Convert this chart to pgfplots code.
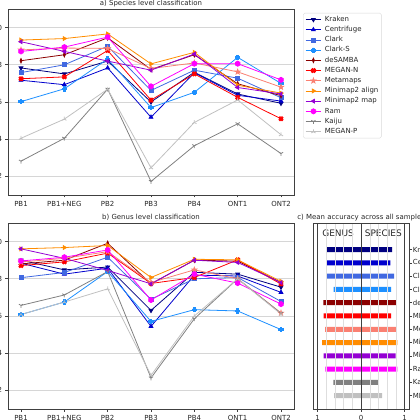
\documentclass[border=0pt]{standalone}
\usepackage{pgfplots}
\usepackage{pgfplotstable}
\pgfplotsset{compat=1.18}
\usepackage{fontspec}
\setmainfont{DejaVu Sans}
\usetikzlibrary{plotmarks}

\definecolor{cKraken}{HTML}{000080}
\definecolor{cCentrifuge}{HTML}{0000CD}
\definecolor{cClark}{HTML}{4169E1}
\definecolor{cClarkS}{HTML}{1E90FF}
\definecolor{cdeSAMBA}{HTML}{8B0000}
\definecolor{cMEGANN}{HTML}{FF0000}
\definecolor{cMetamaps}{HTML}{FA8072}
\definecolor{cMMalign}{HTML}{FF8C00}
\definecolor{cMMmap}{HTML}{9400D3}
\definecolor{cRam}{HTML}{FF00FF}
\definecolor{cKaiju}{HTML}{808080}
\definecolor{cMEGANP}{HTML}{C0C0C0}

\pgfdeclareplotmark{plusfill}{%
\pgfpathmoveto{\pgfqpoint{-0.35\pgfplotmarksize}{\pgfplotmarksize}}%
\pgfpathlineto{\pgfqpoint{0.35\pgfplotmarksize}{\pgfplotmarksize}}%
\pgfpathlineto{\pgfqpoint{0.35\pgfplotmarksize}{0.35\pgfplotmarksize}}%
\pgfpathlineto{\pgfqpoint{\pgfplotmarksize}{0.35\pgfplotmarksize}}%
\pgfpathlineto{\pgfqpoint{\pgfplotmarksize}{-0.35\pgfplotmarksize}}%
\pgfpathlineto{\pgfqpoint{0.35\pgfplotmarksize}{-0.35\pgfplotmarksize}}%
\pgfpathlineto{\pgfqpoint{0.35\pgfplotmarksize}{-\pgfplotmarksize}}%
\pgfpathlineto{\pgfqpoint{-0.35\pgfplotmarksize}{-\pgfplotmarksize}}%
\pgfpathlineto{\pgfqpoint{-0.35\pgfplotmarksize}{-0.35\pgfplotmarksize}}%
\pgfpathlineto{\pgfqpoint{-\pgfplotmarksize}{-0.35\pgfplotmarksize}}%
\pgfpathlineto{\pgfqpoint{-\pgfplotmarksize}{0.35\pgfplotmarksize}}%
\pgfpathlineto{\pgfqpoint{-0.35\pgfplotmarksize}{0.35\pgfplotmarksize}}%
\pgfpathclose\pgfusepathqfillstroke}
\pgfdeclareplotmark{starfill}{%
\pgfpathmoveto{\pgfqpoint{0pt}{\pgfplotmarksize}}%
\pgfpathlineto{\pgfqpoint{-0.235\pgfplotmarksize}{0.324\pgfplotmarksize}}%
\pgfpathlineto{\pgfqpoint{-0.951\pgfplotmarksize}{0.309\pgfplotmarksize}}%
\pgfpathlineto{\pgfqpoint{-0.380\pgfplotmarksize}{-0.124\pgfplotmarksize}}%
\pgfpathlineto{\pgfqpoint{-0.588\pgfplotmarksize}{-0.809\pgfplotmarksize}}%
\pgfpathlineto{\pgfqpoint{0pt}{-0.4\pgfplotmarksize}}%
\pgfpathlineto{\pgfqpoint{0.588\pgfplotmarksize}{-0.809\pgfplotmarksize}}%
\pgfpathlineto{\pgfqpoint{0.380\pgfplotmarksize}{-0.124\pgfplotmarksize}}%
\pgfpathlineto{\pgfqpoint{0.951\pgfplotmarksize}{0.309\pgfplotmarksize}}%
\pgfpathlineto{\pgfqpoint{0.235\pgfplotmarksize}{0.324\pgfplotmarksize}}%
\pgfpathclose\pgfusepathqfillstroke}
\pgfdeclareplotmark{hexfill}{%
\pgfpathmoveto{\pgfqpoint{0pt}{\pgfplotmarksize}}%
\pgfpathlineto{\pgfqpoint{-0.866\pgfplotmarksize}{0.5\pgfplotmarksize}}%
\pgfpathlineto{\pgfqpoint{-0.866\pgfplotmarksize}{-0.5\pgfplotmarksize}}%
\pgfpathlineto{\pgfqpoint{0pt}{-\pgfplotmarksize}}%
\pgfpathlineto{\pgfqpoint{0.866\pgfplotmarksize}{-0.5\pgfplotmarksize}}%
\pgfpathlineto{\pgfqpoint{0.866\pgfplotmarksize}{0.5\pgfplotmarksize}}%
\pgfpathclose\pgfusepathqfillstroke}

% x: 0=PB1 1=PB1+NEG 2=PB2 3=PB3 4=PB4 5=ONT1 6=ONT2
\pgfplotstableread{
x kraken centrifuge clark clarks desamba megann metamaps mmalign mmmap ram kaiju meganp
0 0.783 0.717 0.758 0.602 0.822 0.725 0.880 0.933 0.924 0.872 0.282 0.405
1 0.751 0.693 0.800 0.671 0.854 0.735 0.890 0.941 0.872 0.895 0.405 0.508
2 0.820 0.783 0.900 0.831 0.945 0.877 0.888 0.966 0.820 0.949 0.669 0.669
3 0.600 0.518 0.662 0.570 0.775 0.610 0.780 0.805 0.771 0.684 0.173 0.246
4 0.760 0.757 0.771 0.652 0.854 0.751 0.810 0.867 0.858 0.806 0.365 0.490
5 0.643 0.636 0.728 0.840 0.698 0.625 0.762 0.690 0.678 0.806 0.483 0.611
6 0.593 0.605 0.623 0.700 0.634 0.510 0.680 0.648 0.643 0.719 0.323 0.424
}\species
\pgfplotstableread{
x kraken centrifuge clark clarks desamba megann metamaps mmalign mmmap ram kaiju meganp
0 0.900 0.884 0.806 0.608 0.880 0.871 0.890 0.961 0.961 0.896 0.657 0.608
1 0.848 0.825 0.834 0.675 0.900 0.891 0.910 0.968 0.910 0.916 0.713 0.675
2 0.863 0.857 0.916 0.839 0.991 0.938 0.946 0.979 0.845 0.955 0.839 0.746
3 0.630 0.544 0.690 0.571 0.773 0.775 0.780 0.807 0.773 0.686 0.267 0.281
4 0.835 0.820 0.800 0.634 0.900 0.807 0.848 0.905 0.900 0.825 0.585 0.600
5 0.825 0.815 0.807 0.627 0.895 0.902 0.800 0.902 0.888 0.777 0.800 0.800
6 0.755 0.727 0.678 0.527 0.780 0.772 0.616 0.786 0.780 0.664 0.615 0.610
}\genus

\pgfplotsset{
  skraken/.style={color=cKraken, mark=triangle*, mark options={rotate=180}},
  scentrifuge/.style={color=cCentrifuge, mark=triangle*},
  sclark/.style={color=cClark, mark=square*, mark size=2bp},
  sclarks/.style={color=cClarkS, mark=plusfill},
  sdesamba/.style={color=cdeSAMBA, mark=diamond*, mark options={xscale=0.6}},
  smeganN/.style={color=cMEGANN, mark=plusfill, mark options={rotate=45}},
  smetamaps/.style={color=cMetamaps, mark=starfill, mark size=2.6bp},
  smmalign/.style={color=cMMalign, mark=triangle*, mark options={rotate=-90}},
  smmmap/.style={color=cMMmap, mark=triangle*, mark options={rotate=90}},
  sram/.style={color=cRam, mark=hexfill, mark size=2.6bp},
  skaiju/.style={color=cKaiju, mark=Mercedes star flipped, mark size=2.4bp},
  smeganP/.style={color=cMEGANP, mark=Mercedes star, mark size=2.4bp},
  paneltitle/.style={
    every axis title/.style={at={(0.5,1)}, anchor=base, yshift=3.5bp, inner sep=0pt,
      font=\fontsize{7}{8}\selectfont, text=black!85}},
  linepanel/.style={
    scale only axis, width=286bp, height=186bp,
    xmin=-0.3, xmax=6.3, ymin=0.1, ymax=1.1,
    xtick={0,1,2,3,4,5,6},
    xticklabels={PB1,PB1+NEG,PB2,PB3,PB4,ONT1,ONT2},
    ytick={0.2,0.4,0.6,0.8,1.0},
    yticklabels={0.2,0.4,0.6,0.8,1.0},
    ymajorgrids, major grid style={draw=black!16, line width=0.8bp},
    axis line style={draw=black!75, line width=0.7bp},
    tick align=outside, tick pos=left, major tick length=2.5bp,
    tick style={draw=black!75, line width=0.6bp},
    ticklabel style={font=\fontsize{7}{8}\selectfont, text=black!85},
    every axis plot/.append style={line width=0.8bp, mark size=2.2bp, mark options={solid}},
    paneltitle,
  },
}

\begin{document}
\begin{tikzpicture}
% ---------- a) species ----------
\begin{axis}[linepanel, at={(8bp,225bp)}, anchor=south west,
  title={a) Species level classification},
  legend style={at={(1.0315,0.9785)}, anchor=north west,
    font=\fontsize{7}{8}\selectfont, draw=black!15, rounded corners=1.5pt,
    fill=white, inner sep=2bp, row sep=1.5bp, column sep=2.3bp,
    nodes={inner sep=1bp, text height=5.2bp, text depth=1.5bp, text=black!85},
    cells={anchor=west}},
  legend image code/.code={\draw[mark repeat=2,mark phase=2] plot coordinates {(0bp,0bp) (7.8bp,0bp) (15.6bp,0bp)};},
]
\addplot[skraken] table[x=x,y=kraken] {\species}; \addlegendentry{Kraken}
\addplot[scentrifuge] table[x=x,y=centrifuge] {\species}; \addlegendentry{Centrifuge}
\addplot[sclark] table[x=x,y=clark] {\species}; \addlegendentry{Clark}
\addplot[sclarks] table[x=x,y=clarks] {\species}; \addlegendentry{Clark-S}
\addplot[sdesamba] table[x=x,y=desamba] {\species}; \addlegendentry{deSAMBA}
\addplot[smeganN] table[x=x,y=megann] {\species}; \addlegendentry{MEGAN-N}
\addplot[smetamaps] table[x=x,y=metamaps] {\species}; \addlegendentry{Metamaps}
\addplot[smmalign] table[x=x,y=mmalign] {\species}; \addlegendentry{Minimap2 align}
\addplot[smmmap] table[x=x,y=mmmap] {\species}; \addlegendentry{Minimap2 map}
\addplot[sram] table[x=x,y=ram] {\species}; \addlegendentry{Ram}
\addplot[skaiju] table[x=x,y=kaiju] {\species}; \addlegendentry{Kaiju}
\addplot[smeganP] table[x=x,y=meganp] {\species}; \addlegendentry{MEGAN-P}
\end{axis}
% ---------- b) genus ----------
\begin{axis}[linepanel, at={(8bp,11bp)}, anchor=south west,
  title={b) Genus level classification}]
\addplot[skraken] table[x=x,y=kraken] {\genus};
\addplot[scentrifuge] table[x=x,y=centrifuge] {\genus};
\addplot[sclark] table[x=x,y=clark] {\genus};
\addplot[sclarks] table[x=x,y=clarks] {\genus};
\addplot[sdesamba] table[x=x,y=desamba] {\genus};
\addplot[smeganN] table[x=x,y=megann] {\genus};
\addplot[smetamaps] table[x=x,y=metamaps] {\genus};
\addplot[smmalign] table[x=x,y=mmalign] {\genus};
\addplot[smmmap] table[x=x,y=mmmap] {\genus};
\addplot[sram] table[x=x,y=ram] {\genus};
\addplot[skaiju] table[x=x,y=kaiju] {\genus};
\addplot[smeganP] table[x=x,y=meganp] {\genus};
\end{axis}
% ---------- c) mean accuracy ----------
\begin{axis}[scale only axis, width=95.7bp, height=186bp, at={(313.3bp,11bp)}, anchor=south west,
  xmin=-1.1, xmax=1.1, ymin=-1, ymax=13,
  xtick={-1,0,1}, xticklabels={1,0,1},
  minor xtick={-0.8,-0.6,-0.4,-0.2,0.2,0.4,0.6,0.8},
  xmajorgrids, xminorgrids,
  major grid style={draw=black!75, line width=0.8bp},
  minor grid style={draw=black!13, line width=0.6bp},
  ytick={0,1,2,3,4,5,6,7,8,9,10,11},
  yticklabels={MEGAN-P,Kaiju,Ram,Minimap2 map,Minimap2 align,Metamaps,MEGAN-N,deSAMBA,Clark-S,Clark,Centrifuge,Kraken},
  yticklabel pos=right, ytick pos=right, xtick pos=bottom,
  tick align=outside, major tick length=2.5bp, minor tick length=0pt,
  tick style={draw=black!75, line width=0.6bp},
  axis line style={draw=black!75, line width=0.7bp},
  ticklabel style={font=\fontsize{7}{8}\selectfont, text=black!85},
  yticklabel style={inner sep=1.2bp},
  axis on top,
  paneltitle,
  title={c) Mean accuracy across all samples},
]
\addplot[xbar, bar shift=0pt, bar width=5bp, fill=cKraken, draw=none] coordinates {(-0.80,11) (0.71,11)};
\addplot[xbar, bar shift=0pt, bar width=5bp, fill=cCentrifuge, draw=none] coordinates {(-0.78,10) (0.67,10)};
\addplot[xbar, bar shift=0pt, bar width=5bp, fill=cClark, draw=none] coordinates {(-0.79,9) (0.76,9)};
\addplot[xbar, bar shift=0pt, bar width=5bp, fill=cClarkS, draw=none] coordinates {(-0.63,8) (0.69,8)};
\addplot[xbar, bar shift=0pt, bar width=5bp, fill=cdeSAMBA, draw=none] coordinates {(-0.87,7) (0.80,7)};
\addplot[xbar, bar shift=0pt, bar width=5bp, fill=cMEGANN, draw=none] coordinates {(-0.86,6) (0.69,6)};
\addplot[xbar, bar shift=0pt, bar width=5bp, fill=cMetamaps, draw=none] coordinates {(-0.83,5) (0.81,5)};
\addplot[xbar, bar shift=0pt, bar width=5bp, fill=cMMalign, draw=none] coordinates {(-0.90,4) (0.83,4)};
\addplot[xbar, bar shift=0pt, bar width=5bp, fill=cMMmap, draw=none] coordinates {(-0.86,3) (0.79,3)};
\addplot[xbar, bar shift=0pt, bar width=5bp, fill=cRam, draw=none] coordinates {(-0.82,2) (0.83,2)};
\addplot[xbar, bar shift=0pt, bar width=5bp, fill=cKaiju, draw=none] coordinates {(-0.64,1) (0.39,1)};
\addplot[xbar, bar shift=0pt, bar width=5bp, fill=cMEGANP, draw=none] coordinates {(-0.62,0) (0.48,0)};
\node[font=\fontsize{9}{10}\selectfont, text=black!85] at (axis cs:-0.53,12.25) {GENUS};
\node[font=\fontsize{9}{10}\selectfont, text=black!85] at (axis cs:0.51,12.25) {SPECIES};
\end{axis}
\pgfresetboundingbox
\useasboundingbox (0,0) rectangle (420bp,420bp);
\end{tikzpicture}
\end{document}
